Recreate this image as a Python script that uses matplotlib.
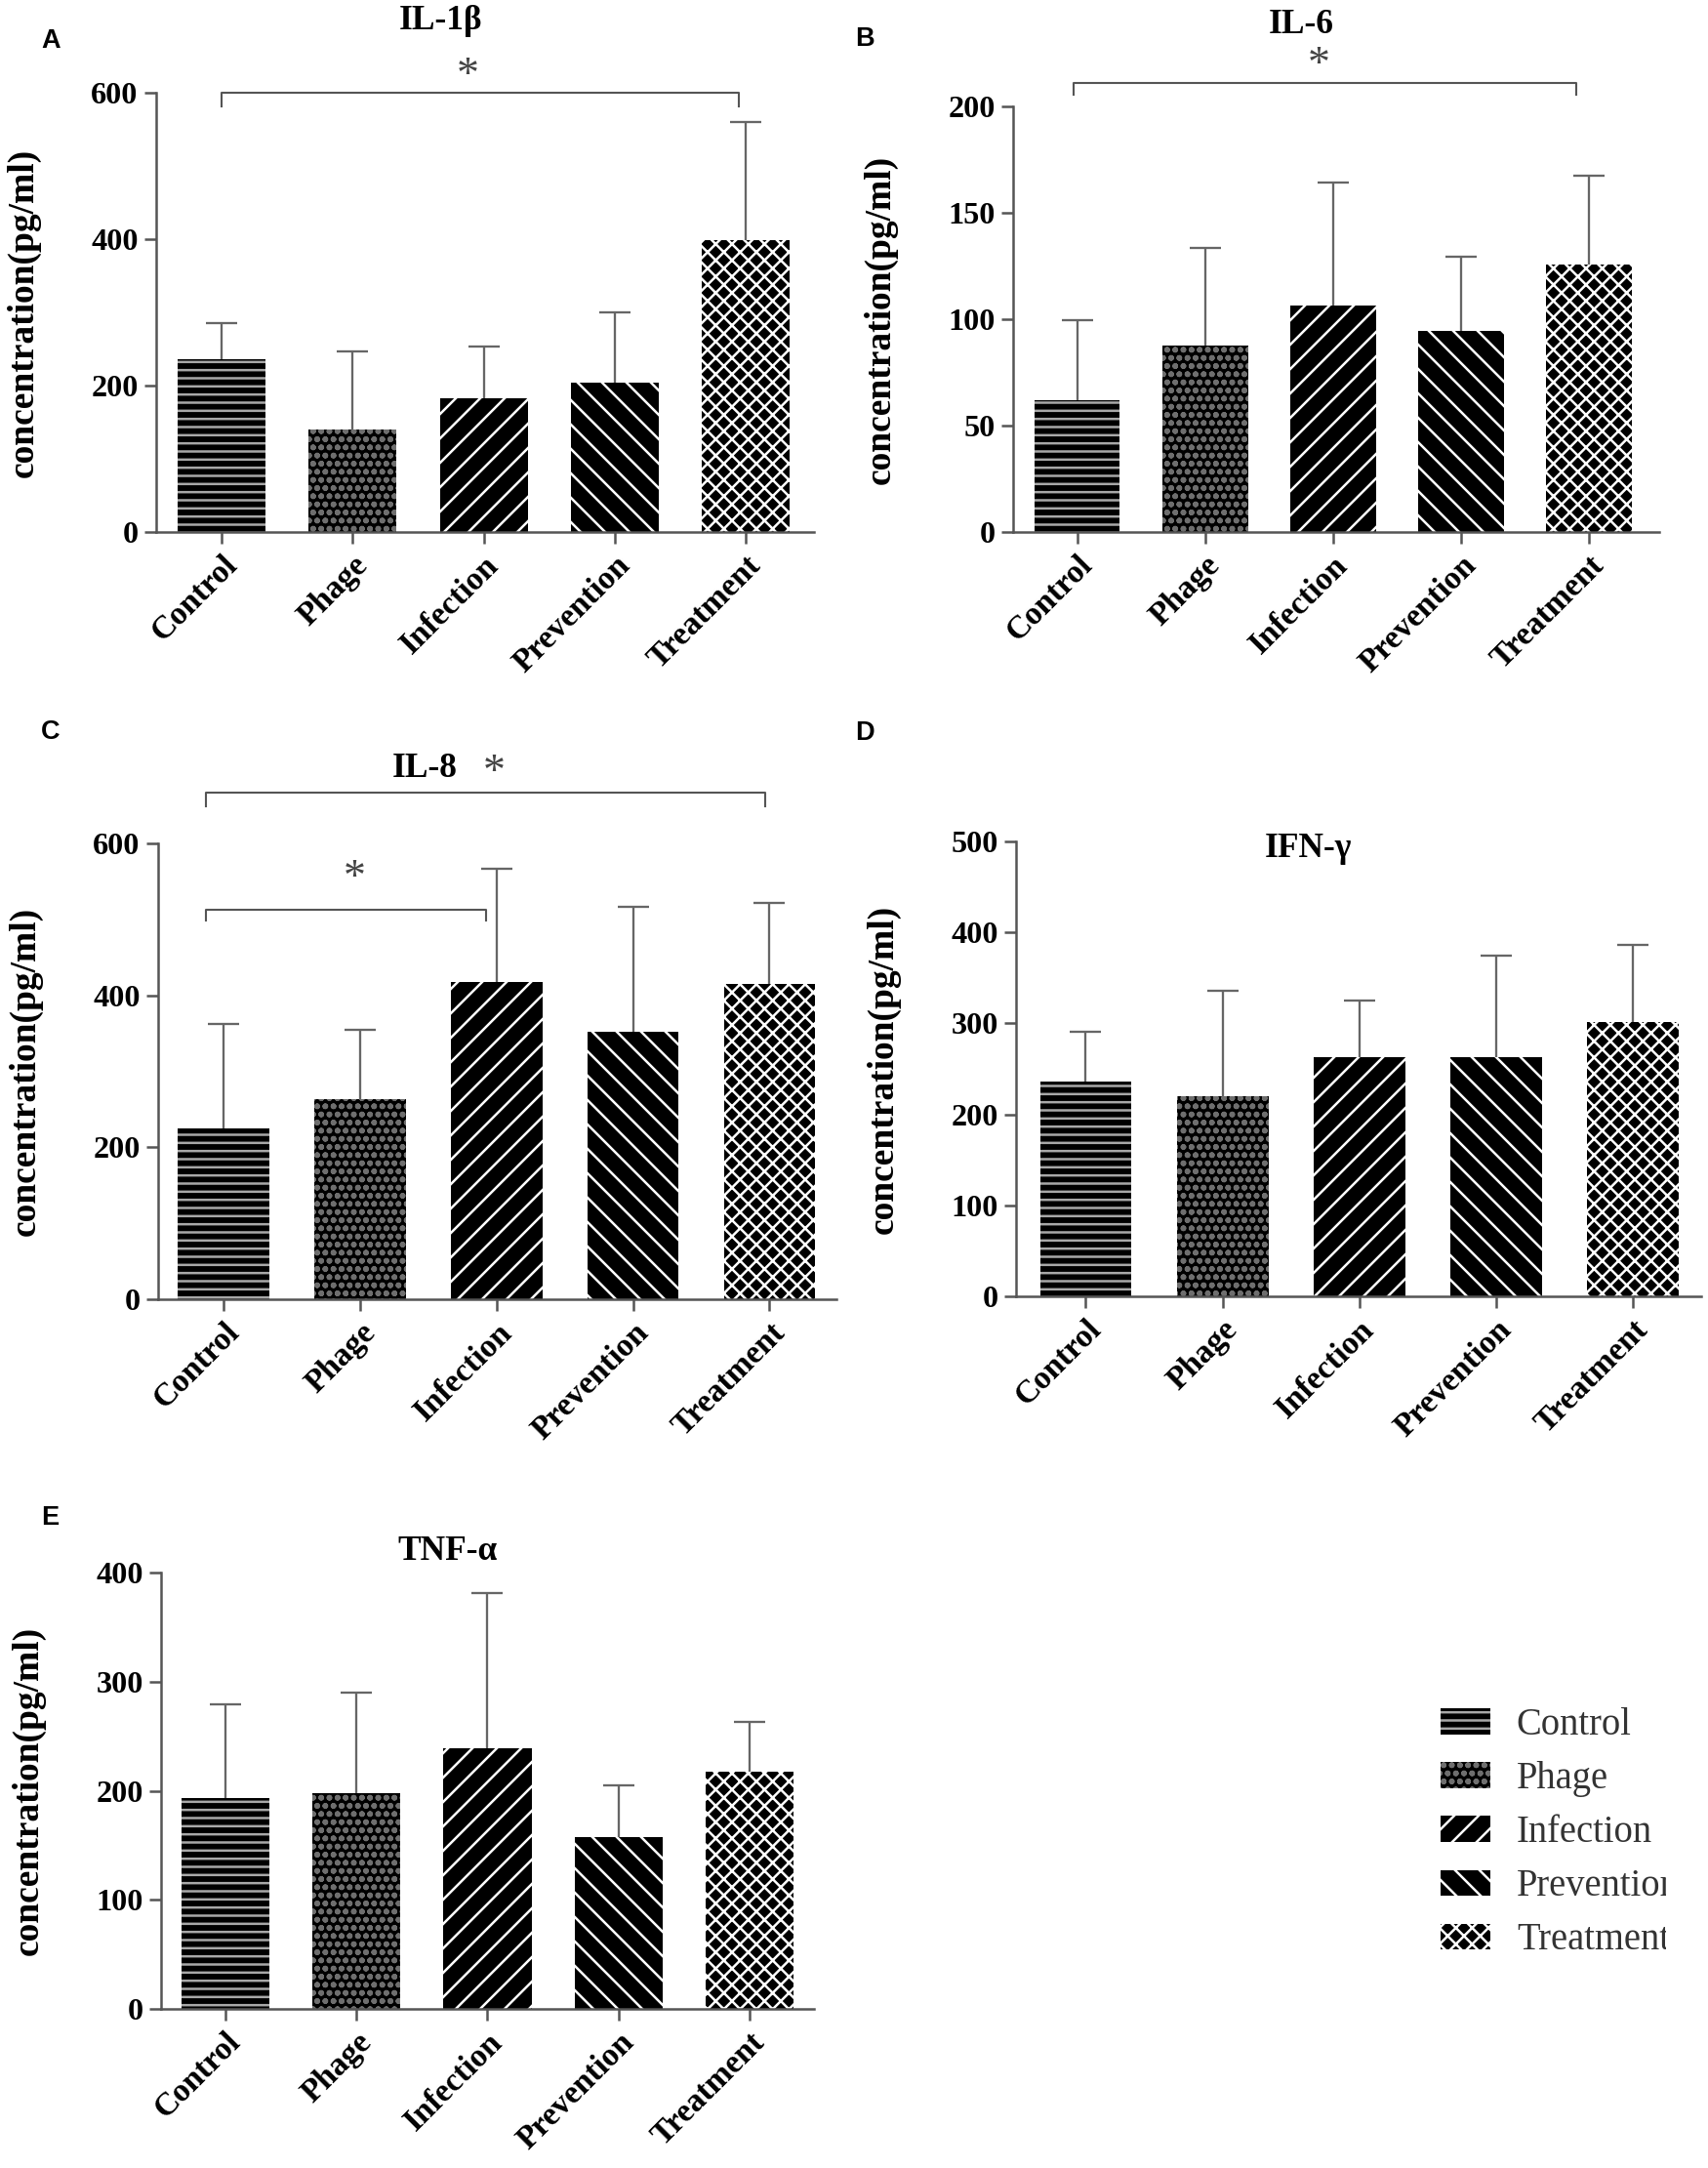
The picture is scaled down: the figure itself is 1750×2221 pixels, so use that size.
import numpy as np
import matplotlib
import matplotlib.pyplot as plt
from matplotlib.transforms import Bbox, TransformedBbox, ScaledTranslation

groups = ['Control', 'Phage', 'Infection', 'Prevention', 'Treatment']

# mean and upper SD of each cytokine (pg/ml)
il1b_mean = [236, 140, 183, 204, 399]
il1b_err = [50, 107, 71, 96, 161]
il6_mean = [61.7, 87.4, 106.5, 94.7, 125.9]
il6_err = [37.7, 46.3, 57.5, 34.6, 41.7]
il8_mean = [224.6, 264, 418, 352.5, 414.6]
il8_err = [137.4, 90, 149, 164.5, 106.4]
ifng_mean = [236, 220, 262.5, 262.5, 301.5]
ifng_err = [55, 116, 62.5, 111.5, 84.5]
tnfa_mean = [193, 198, 239, 157.5, 217.5]
tnfa_err = [86.5, 92, 142, 47.5, 45.5]

hatches = ['---', 'ooo', '//', '\\\\', 'xxx']
hatch_colors = ['#a8a8a8', '#6e6e6e', 'white', 'white', 'white']

W, H = 1750, 2221
DPI = 150
plt.rcParams['font.family'] = ['Liberation Serif', 'DejaVu Serif']
plt.rcParams['font.weight'] = 'bold'
plt.rcParams['hatch.linewidth'] = 1.2
fig = plt.figure(figsize=(W / DPI, H / DPI), dpi=DPI)

GRAY = '#555555'


def px_rect(l, t, r, b):
    return [l / W, 1 - b / H, (r - l) / W, (b - t) / H]


def panel(rect, mean, err, ymax, step, xlim):
    ax = fig.add_axes(rect)
    x = np.arange(len(groups))
    bars = ax.bar(x, mean, width=0.67, color='black', linewidth=0, zorder=2)
    for p, h, c in zip(bars, hatches, hatch_colors):
        p.set_edgecolor(c)
        p.set_hatch(h)
    # only the upper half of the SD is shown
    eb = ax.errorbar(x, mean, yerr=[np.zeros(len(x)), err], fmt='none',
                     ecolor='#666666', elinewidth=1.1, capsize=7.7, capthick=1.1,
                     zorder=1)
    for cap in eb[1]:
        if np.allclose(cap.get_ydata(), mean):
            cap.set_visible(False)
    ax.set_ylim(0, ymax)
    ax.set_xlim(*xlim)
    ax.set_yticks(np.arange(0, ymax + 1, step))
    ax.set_xticks(x, groups, rotation=45, ha='right', rotation_mode='anchor')
    off = ScaledTranslation(5 / 72, -7 / 72, fig.dpi_scale_trans)
    for lab in ax.get_xticklabels():
        lab.set_transform(lab.get_transform() + off)
        lab.set_fontsize(16)
    for s in ['top', 'right']:
        ax.spines[s].set_visible(False)
    for s in ['left', 'bottom']:
        ax.spines[s].set_color(GRAY)
        ax.spines[s].set_linewidth(1.2)
        ax.spines[s].set_zorder(3)
    ax.tick_params(axis='both', direction='out', length=5.8, width=1.2, color=GRAY, pad=3)
    ax.tick_params(axis='y', labelsize=15.5)
    ax.set_ylabel('concentration(pg/ml)', fontsize=18, fontweight='bold')
    width_px = rect[2] * W
    ax.yaxis.set_label_coords(-118 / width_px, 0.5)
    return ax, bars


def bracket(ax, x0, x1, y, drop, sx, sy):
    ax.plot([x0, x0, x1, x1], [y - drop, y, y, y - drop], color=GRAY,
            lw=1.0, clip_on=False)
    ax.text(sx, sy, '*', ha='center', va='center', fontsize=22,
            fontweight='normal', color='#444444', clip_on=False)


axA, _ = panel(px_rect(160, 95, 834, 545), il1b_mean, il1b_err, 600, 200, (-0.5, 4.52))
bracket(axA, 0, 3.95, 600, 18, 1.88, 622)

axB, _ = panel(px_rect(1038, 109, 1700, 545), il6_mean, il6_err, 200, 50, (-0.5, 4.55))
bracket(axB, -0.03, 3.9, 211, 5.7, 1.89, 219)

axC, _ = panel(px_rect(162, 864, 857, 1331), il8_mean, il8_err, 600, 200, (-0.48, 4.49))
bracket(axC, -0.13, 3.97, 666.5, 17.5, 1.98, 692)
bracket(axC, -0.13, 1.92, 513, 14, 0.96, 553)

axD, _ = panel(px_rect(1041, 862, 1743, 1328), ifng_mean, ifng_err, 500, 100, (-0.51, 4.5))
axD.text(1.63, 492, 'IFN-γ', ha='center', va='center', fontsize=17, fontweight='bold')

axE, barsE = panel(px_rect(165, 1611, 834, 2058), tnfa_mean, tnfa_err, 400, 100, (-0.49, 4.49))

# titles
fig.text(452 / W, 1 - 22 / H, 'IL-1β', ha='center', va='center', fontsize=17, fontweight='bold')
fig.text(1333 / W, 1 - 25 / H, 'IL-6', ha='center', va='center', fontsize=17, fontweight='bold')
fig.text(435 / W, 1 - 787 / H, 'IL-8', ha='center', va='center', fontsize=17, fontweight='bold')
fig.text(458 / W, 1 - 1590 / H, 'TNF-α', ha='center', va='center', fontsize=17, fontweight='bold')

# panel letters
for letter, (px, py) in zip('ABCDE', [(52, 42), (886, 40), (52, 750), (886, 751), (51, 1555)]):
    fig.text(px / W, 1 - py / H, letter, ha='center', va='center', fontsize=13,
             fontweight='bold', family='Liberation Sans')

leg = fig.legend(barsE, groups, loc='upper left', bbox_to_anchor=(1476 / W, 1 - 1749 / H),
                 frameon=False, borderpad=0, borderaxespad=0, handlelength=1.32,
                 handleheight=0.68, handletextpad=0.7, labelspacing=0.47,
                 prop={'family': 'Liberation Serif', 'weight': 'normal', 'size': 18.5})
clip = TransformedBbox(Bbox([[0, 0], [1707 / W, 1]]), fig.transFigure)
for t in leg.get_texts():
    t.set_color('#333333')
    t.set_clip_box(clip)
    t.set_clip_on(True)

fig.savefig('out.png', dpi=DPI, facecolor='white')
